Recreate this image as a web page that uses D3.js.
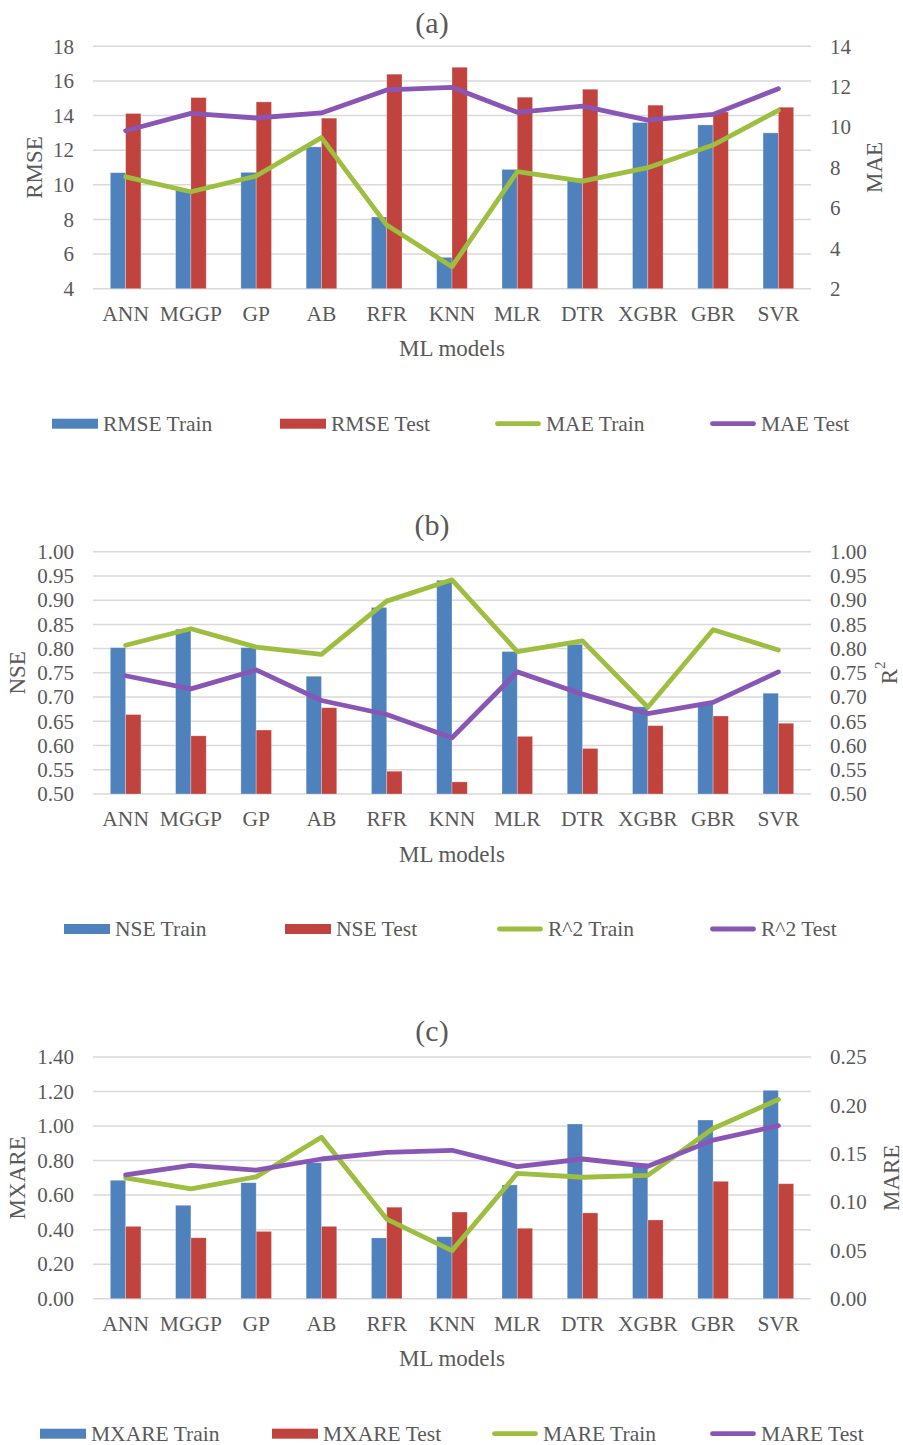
<!DOCTYPE html>
<html>
<head>
<meta charset="utf-8">
<script src="https://cdn.jsdelivr.net/npm/d3@7/dist/d3.min.js"></script>
<style>
  html, body { margin: 0; padding: 0; background: #fff; }
  svg text { font-family: "Liberation Serif", "Times New Roman", serif; fill: #595959; }
</style>
</head>
<body>
<svg id="chart" width="903" height="1445"></svg>
<script>
// Model names along the x axis
const categories = ["ANN", "MGGP", "GP", "AB", "RFR", "KNN", "MLR", "DTR", "XGBR", "GBR", "SVR"];

// (a) RMSE (bars, left axis) and MAE (lines, right axis)
const rmseTrain = [10.70, 9.70, 10.72, 12.19, 8.14, 5.81, 10.89, 10.37, 13.60, 13.46, 13.00];
const rmseTest  = [14.12, 15.04, 14.79, 13.85, 16.39, 16.79, 15.06, 15.52, 14.60, 14.21, 14.48];
const maeTrain  = [7.54, 6.80, 7.58, 9.48, 5.15, 3.09, 7.79, 7.33, 7.99, 9.11, 10.83];
const maeTest   = [9.82, 10.68, 10.45, 10.70, 11.84, 11.97, 10.73, 11.04, 10.35, 10.63, 11.90];

// (b) NSE (bars, left axis) and R^2 (lines, right axis)
const nseTrain = [0.802, 0.840, 0.802, 0.743, 0.885, 0.941, 0.794, 0.809, 0.680, 0.685, 0.708];
const nseTest  = [0.664, 0.620, 0.632, 0.678, 0.547, 0.525, 0.619, 0.594, 0.641, 0.661, 0.646];
const r2Train  = [0.807, 0.841, 0.803, 0.788, 0.898, 0.942, 0.794, 0.816, 0.679, 0.839, 0.797];
const r2Test   = [0.744, 0.717, 0.756, 0.693, 0.664, 0.616, 0.752, 0.706, 0.666, 0.689, 0.752];

// (c) MXARE (bars, left axis) and MARE (lines, right axis)
const mxareTrain = [0.686, 0.541, 0.672, 0.788, 0.352, 0.359, 0.659, 1.012, 0.784, 1.035, 1.207];
const mxareTest  = [0.419, 0.353, 0.390, 0.419, 0.530, 0.502, 0.408, 0.497, 0.456, 0.680, 0.666];
const mareTrain  = [0.125, 0.1135, 0.126, 0.167, 0.0824, 0.0497, 0.1297, 0.1256, 0.1276, 0.176, 0.206];
const mareTest   = [0.128, 0.138, 0.133, 0.1445, 0.1514, 0.1535, 0.1366, 0.1445, 0.137, 0.164, 0.179];

// Axis tick values
const ticksRmse  = [4, 6, 8, 10, 12, 14, 16, 18];
const ticksMae   = [2, 4, 6, 8, 10, 12, 14];
const ticksNse   = [0.50, 0.55, 0.60, 0.65, 0.70, 0.75, 0.80, 0.85, 0.90, 0.95, 1.00];
const ticksR2    = [0.50, 0.55, 0.60, 0.65, 0.70, 0.75, 0.80, 0.85, 0.90, 0.95, 1.00];
const ticksMxare = [0.00, 0.20, 0.40, 0.60, 0.80, 1.00, 1.20, 1.40];
const ticksMare  = [0.00, 0.05, 0.10, 0.15, 0.20, 0.25];

const COLORS = { blue: "#4F81BD", red: "#C0433D", green: "#9DBE3F", purple: "#8A56B5" };

const svg = d3.select("#chart");
const X0 = 93, X1 = 811;
const x = d3.scaleBand().domain(categories).range([X0, X1]).paddingInner(0).paddingOuter(0);
const barW = 15.3;

function panel(cfg) {
  const g = svg.append("g");
  const yL = d3.scaleLinear().domain(cfg.leftDomain).range([cfg.bottom, cfg.top]);
  const yR = d3.scaleLinear().domain(cfg.rightDomain).range([cfg.bottom, cfg.top]);

  // gridlines
  g.append("g").selectAll("line").data(cfg.leftTicks).join("line")
    .attr("x1", X0).attr("x2", X1)
    .attr("y1", d => yL(d)).attr("y2", d => yL(d))
    .attr("stroke", "#d9d9d9").attr("stroke-width", 1.5);

  // tick labels via d3 axes
  const axL = g.append("g").attr("transform", `translate(${X0 - 19},0)`)
    .call(d3.axisLeft(yL).tickValues(cfg.leftTicks).tickFormat(cfg.leftFmt).tickSize(0).tickPadding(0));
  const axR = g.append("g").attr("transform", `translate(${X1 + 19},0)`)
    .call(d3.axisRight(yR).tickValues(cfg.rightTicks).tickFormat(cfg.rightFmt).tickSize(0).tickPadding(0));
  [axL, axR].forEach(a => {
    a.select(".domain").remove();
    a.selectAll("text").attr("font-size", 21).attr("fill", "#595959")
      .attr("font-family", "Liberation Serif, Times New Roman, serif");
  });

  // categories
  const axB = g.append("g").attr("transform", `translate(0,${cfg.bottom + 17})`)
    .call(d3.axisBottom(x).tickSize(0).tickPadding(0));
  axB.select(".domain").remove();
  axB.selectAll("text").attr("font-size", 21.5).attr("fill", "#595959")
    .attr("font-family", "Liberation Serif, Times New Roman, serif");

  // bars
  const bars = g.append("g");
  [[cfg.barA, COLORS.blue, -1], [cfg.barB, COLORS.red, 0]].forEach(([vals, col, off]) => {
    bars.append("g").selectAll("rect").data(vals).join("rect")
      .attr("x", (d, i) => x(categories[i]) + x.bandwidth() / 2 + off * barW)
      .attr("width", barW)
      .attr("y", d => yL(d))
      .attr("height", d => cfg.bottom - yL(d))
      .attr("fill", col)
      .attr("stroke", "rgba(255,255,255,0.35)").attr("stroke-width", 0.8);
  });

  // lines on the secondary axis
  const line = d3.line()
    .x((d, i) => x(categories[i]) + x.bandwidth() / 2)
    .y(d => yR(d));
  [[cfg.lineA, COLORS.green], [cfg.lineB, COLORS.purple]].forEach(([vals, col]) => {
    g.append("path").datum(vals).attr("d", line)
      .attr("fill", "none").attr("stroke", col).attr("stroke-width", 4.8)
      .attr("stroke-linejoin", "round").attr("stroke-linecap", "round");
  });

  // panel title
  g.append("text").attr("x", 432).attr("y", cfg.top - cfg.titleGap)
    .attr("text-anchor", "middle").attr("dominant-baseline", "central")
    .attr("font-size", 30).text(cfg.title);

  // x axis title
  g.append("text").attr("x", 452).attr("y", cfg.bottom + 60)
    .attr("text-anchor", "middle").attr("dominant-baseline", "central")
    .attr("font-size", 23).text("ML models");

  // y axis titles
  const mid = (cfg.top + cfg.bottom) / 2;
  g.append("text").attr("transform", `translate(${cfg.leftTitleX},${mid}) rotate(-90)`)
    .attr("text-anchor", "middle").attr("dominant-baseline", "central")
    .attr("font-size", 23).text(cfg.leftTitle);
  const rt = g.append("text").attr("transform", `translate(${cfg.rightTitleX},${mid}) rotate(-90)`)
    .attr("text-anchor", "middle").attr("dominant-baseline", "central")
    .attr("font-size", 23);
  if (cfg.rightSup) {
    rt.append("tspan").text(cfg.rightTitle);
    rt.append("tspan").attr("font-size", 15).attr("dy", -9).text(cfg.rightSup);
  } else {
    rt.text(cfg.rightTitle);
  }

  // legend
  const ly = cfg.bottom + 135;
  const lg = g.append("g");
  cfg.legend.forEach((it, i) => {
    const sx = it.x;
    if (it.kind === "bar") {
      lg.append("rect").attr("x", sx).attr("y", ly - 5).attr("width", 46).attr("height", 10)
        .attr("fill", it.color);
    } else {
      lg.append("line").attr("x1", sx + 2.5).attr("x2", sx + 43.5).attr("y1", ly).attr("y2", ly)
        .attr("stroke", it.color).attr("stroke-width", 4.8).attr("stroke-linecap", "round");
    }
    lg.append("text").attr("x", sx + 51).attr("y", ly).attr("dominant-baseline", "central")
      .attr("font-size", 21.5).text(it.label);
  });
}

panel({
  title: "(a)", top: 46.3, bottom: 288.7, titleGap: 24,
  leftDomain: [4, 18], rightDomain: [2, 14],
  leftTicks: ticksRmse, rightTicks: ticksMae,
  leftFmt: d3.format("d"), rightFmt: d3.format("d"),
  barA: rmseTrain, barB: rmseTest, lineA: maeTrain, lineB: maeTest,
  leftTitle: "RMSE", leftTitleX: 34, rightTitle: "MAE", rightTitleX: 874,
  legend: [
    { kind: "bar", color: COLORS.blue, x: 52, label: "RMSE Train" },
    { kind: "bar", color: COLORS.red, x: 280, label: "RMSE Test" },
    { kind: "line", color: COLORS.green, x: 495, label: "MAE Train" },
    { kind: "line", color: COLORS.purple, x: 710, label: "MAE Test" }
  ]
});

panel({
  title: "(b)", top: 551.7, bottom: 794, titleGap: 27,
  leftDomain: [0.5, 1.0], rightDomain: [0.5, 1.0],
  leftTicks: ticksNse, rightTicks: ticksR2,
  leftFmt: d3.format(".2f"), rightFmt: d3.format(".2f"),
  barA: nseTrain, barB: nseTest, lineA: r2Train, lineB: r2Test,
  leftTitle: "NSE", leftTitleX: 17, rightTitle: "R", rightSup: "2", rightTitleX: 889,
  legend: [
    { kind: "bar", color: COLORS.blue, x: 64, label: "NSE Train" },
    { kind: "bar", color: COLORS.red, x: 285, label: "NSE Test" },
    { kind: "line", color: COLORS.green, x: 497, label: "R^2 Train" },
    { kind: "line", color: COLORS.purple, x: 710, label: "R^2 Test" }
  ]
});

panel({
  title: "(c)", top: 1057, bottom: 1298.7, titleGap: 27,
  leftDomain: [0, 1.4], rightDomain: [0, 0.25],
  leftTicks: ticksMxare, rightTicks: ticksMare,
  leftFmt: d3.format(".2f"), rightFmt: d3.format(".2f"),
  barA: mxareTrain, barB: mxareTest, lineA: mareTrain, lineB: mareTest,
  leftTitle: "MXARE", leftTitleX: 17, rightTitle: "MARE", rightTitleX: 891,
  legend: [
    { kind: "bar", color: COLORS.blue, x: 40, label: "MXARE Train" },
    { kind: "bar", color: COLORS.red, x: 272, label: "MXARE Test" },
    { kind: "line", color: COLORS.green, x: 492, label: "MARE Train" },
    { kind: "line", color: COLORS.purple, x: 710, label: "MARE Test" }
  ]
});
</script>
</body>
</html>
